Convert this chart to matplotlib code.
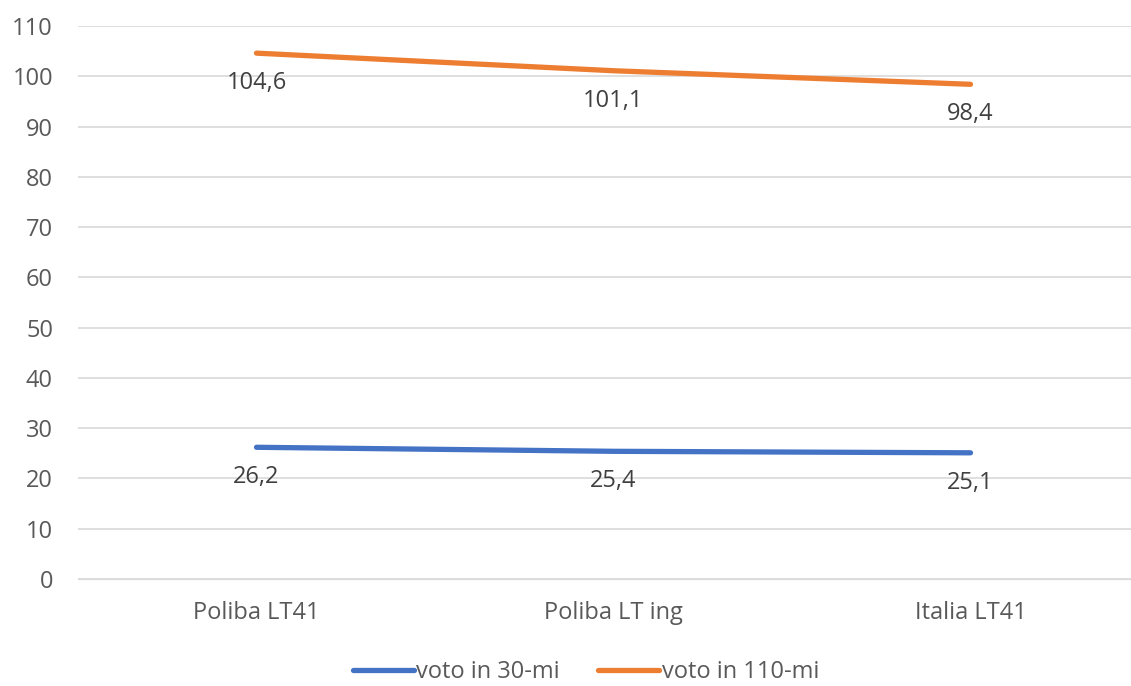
import matplotlib.pyplot as plt

categories = ["Poliba LT41", "Poliba LT ing", "Italia LT41"]
voto_30 = [26.2, 25.4, 25.1]
voto_110 = [104.6, 101.1, 98.4]
series_names = ["voto in 30-mi", "voto in 110-mi"]

plt.rcParams['font.family'] = ['Open Sans', 'DejaVu Sans']
txt = "#595959"
fs = 17

fig = plt.figure(figsize=(11.31, 6.86), dpi=100)
# plot area runs off the right edge of the figure
ax = fig.add_axes([78 / 1131, 1 - 579 / 686, 1071 / 1131, 553 / 686])

x = range(len(categories))
ax.plot(x, voto_30, color="#4472C4", lw=3.8, solid_capstyle="round", label=series_names[0])
ax.plot(x, voto_110, color="#ED7D31", lw=3.8, solid_capstyle="round", label=series_names[1])

for ys in (voto_30, voto_110):
    for xi, yi in zip(x, ys):
        ax.annotate(f"{yi:.1f}".replace(".", ","), (xi, yi), xytext=(0, -21.5),
                    textcoords="offset points", ha="center", va="center",
                    fontsize=fs, color="#404040")

ax.set_xlim(-0.5, 2.5)
ax.set_ylim(0, 110)
ax.set_yticks(range(0, 111, 10))
ax.set_xticks(list(x))
ax.set_xticklabels(categories)
ax.grid(axis="y", color="#D9D9D9", lw=1.2)
ax.set_axisbelow(True)
for s in ax.spines.values():
    s.set_visible(False)
ax.spines["bottom"].set_visible(True)
ax.spines["bottom"].set_color("#D9D9D9")
ax.tick_params(axis="both", length=0, labelsize=fs, colors=txt)
ax.tick_params(axis="x", pad=16)
ax.tick_params(axis="y", pad=18)

fig.legend(loc="center", bbox_to_anchor=(0.518, 1 - 672 / 686), ncol=2, frameon=False,
           fontsize=fs, labelcolor=txt, handlelength=2.6, handletextpad=0.1,
           columnspacing=1.6)

fig.savefig("out.png", dpi=100)
